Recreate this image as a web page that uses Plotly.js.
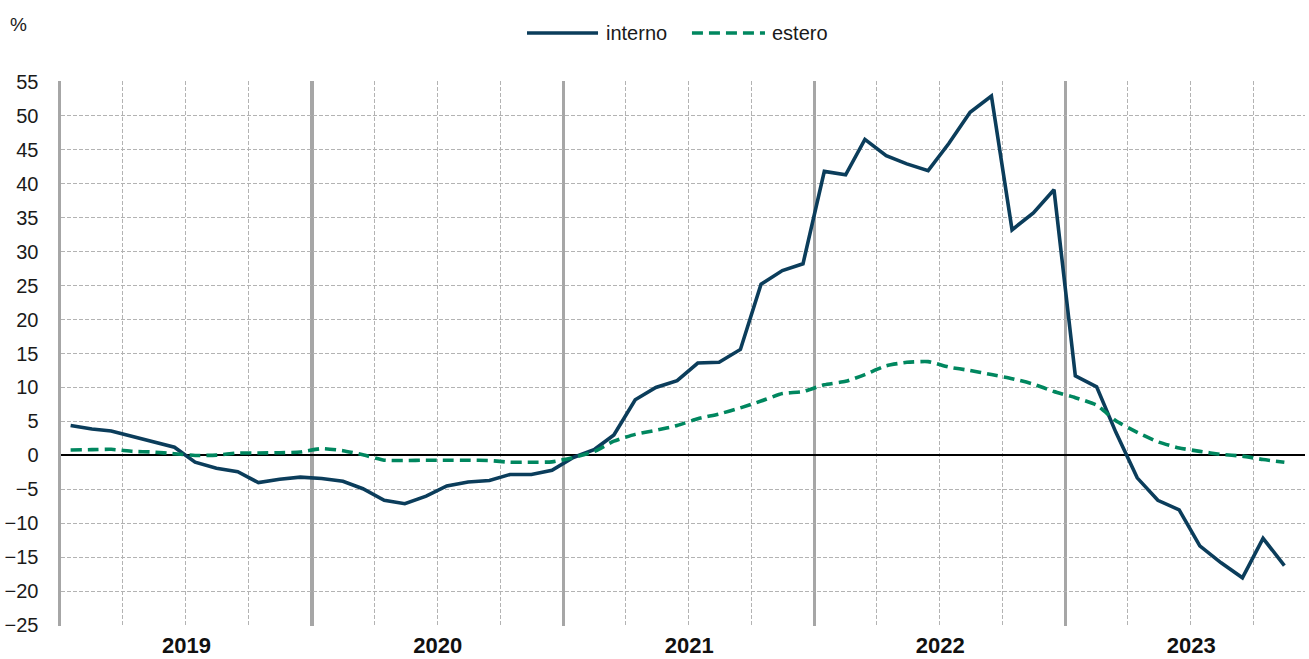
<!DOCTYPE html>
<html>
<head>
<meta charset="utf-8">
<script src="https://cdn.plot.ly/plotly-3.0.1.min.js"></script>
<style>
  html, body { margin: 0; padding: 0; background: #fff; }
  #chart { width: 1309px; height: 659px; }
</style>
</head>
<body>
<div id="chart"></div>
<script>
// monthly series, Jan 2019 - Nov 2023
let interno = [4.4, 3.9, 3.6, 2.8, 2.0, 1.2, -1.0, -1.9, -2.4, -4.0, -3.5, -3.2,
  -3.4, -3.8, -4.9, -6.6, -7.1, -6.0, -4.5, -3.9, -3.7, -2.8, -2.8, -2.2,
  -0.3, 0.9, 3.0, 8.2, 10.0, 11.0, 13.6, 13.7, 15.6, 25.2, 27.2, 28.2,
  41.8, 41.3, 46.5, 44.1, 42.9, 41.9, 45.9, 50.5, 52.9, 33.2, 35.7, 39.1,
  11.7, 10.1, 3.4, -3.3, -6.6, -8.0, -13.3, -15.8, -18.0, -12.2, -16.2];
let estero = [0.8, 0.85, 0.9, 0.6, 0.5, 0.25, 0.0, 0.05, 0.35, 0.35, 0.4, 0.5,
  1.0, 0.7, 0.1, -0.7, -0.75, -0.7, -0.7, -0.7, -0.75, -1.0, -1.0, -0.95,
  -0.3, 0.6, 2.1, 3.1, 3.7, 4.4, 5.4, 6.1, 7.0, 8.0, 9.1, 9.4,
  10.4, 10.9, 11.9, 13.2, 13.7, 13.8, 13.0, 12.5, 11.9, 11.3, 10.5, 9.4,
  8.5, 7.4, 5.1, 3.4, 2.0, 1.1, 0.6, 0.15, -0.1, -0.6, -1.0];
let seriesNames = ["interno", "estero"];
let yTicks = [-25, -20, -15, -10, -5, 0, 5, 10, 15, 20, 25, 30, 35, 40, 45, 50, 55];

// mid-month dates
let months = [];
for (let i = 0; i < interno.length; i++) {
  let y = 2019 + Math.floor(i / 12);
  let m = (i % 12) + 1;
  months.push(y + "-" + (m < 10 ? "0" + m : m) + "-15");
}

const NAVY = "#0b3d5b";
const GREEN = "#00875f";
const FONT = "'Liberation Sans', Arial, sans-serif";

let data = [{
  x: months, y: interno, name: seriesNames[0],
  mode: "lines", type: "scatter", showlegend: false,
  line: { color: NAVY, width: 3.6 }
}, {
  x: months, y: estero, name: seriesNames[1],
  mode: "lines", type: "scatter", showlegend: false,
  line: { color: GREEN, width: 3.6, dash: "11px,6px", shape: "spline", smoothing: 0.5 }
}];

// hand-made legend above the plot (paper coords)
let legendY = 1.088;
let shapes = [
  { type: "line", xref: "paper", yref: "paper", x0: 0.3746, x1: 0.4317, y0: legendY, y1: legendY,
    line: { color: NAVY, width: 3.6 } },
  { type: "line", xref: "paper", yref: "paper", x0: 0.5072, x1: 0.5659, y0: legendY, y1: legendY,
    line: { color: GREEN, width: 3.6, dash: "11px,6px" } }
];
let annotations = [
  { text: seriesNames[0], xref: "paper", yref: "paper", x: 0.4365, y: legendY, xanchor: "left", yanchor: "middle",
    showarrow: false, font: { family: FONT, size: 20, color: "#1a1a1a" } },
  { text: seriesNames[1], xref: "paper", yref: "paper", x: 0.5700, y: legendY, xanchor: "left", yanchor: "middle",
    showarrow: false, font: { family: FONT, size: 20, color: "#1a1a1a" } },
  { text: "%", xref: "paper", yref: "paper", x: -0.0345, y: 1.104, xanchor: "center", yanchor: "middle",
    showarrow: false, font: { family: FONT, size: 19, color: "#1a1a1a" } }
];

let layout = {
  width: 1309, height: 659,
  margin: { l: 61, r: 4, t: 81, b: 33 },
  paper_bgcolor: "#fff", plot_bgcolor: "#fff",
  font: { family: FONT, size: 20, color: "#1a1a1a" },
  xaxis: {
    type: "date",
    range: ["2019-01-01", "2023-12-15"],
    tick0: "2019-01-01", dtick: "M12",
    tickformat: "%Y", ticklabelmode: "period",
    tickfont: { family: FONT, size: 22, color: "#111", weight: "bold" },
    ticks: "", ticklabelstandoff: 4, showline: false, zeroline: false,
    showgrid: true, gridcolor: "#a6a6a6", gridwidth: 3.5,
    minor: { dtick: "M3", tick0: "2019-01-01", showgrid: true, gridcolor: "#b3b3b3", gridwidth: 1, griddash: "4px,2px" },
    fixedrange: true
  },
  yaxis: {
    range: [-25.1, 55.1],
    tickvals: yTicks,
    ticks: "", ticklabelstandoff: 15,
    tickfont: { family: FONT, size: 20, color: "#1a1a1a" },
    showgrid: true, gridcolor: "#b3b3b3", gridwidth: 1, griddash: "4px,2px",
    zeroline: true, zerolinecolor: "#000", zerolinewidth: 2,
    showline: true, linecolor: "#a6a6a6", linewidth: 3.5,
    fixedrange: true
  },
  shapes: shapes,
  annotations: annotations
};

Plotly.newPlot("chart", data, layout, { displayModeBar: false, staticPlot: true });
</script>
</body>
</html>
